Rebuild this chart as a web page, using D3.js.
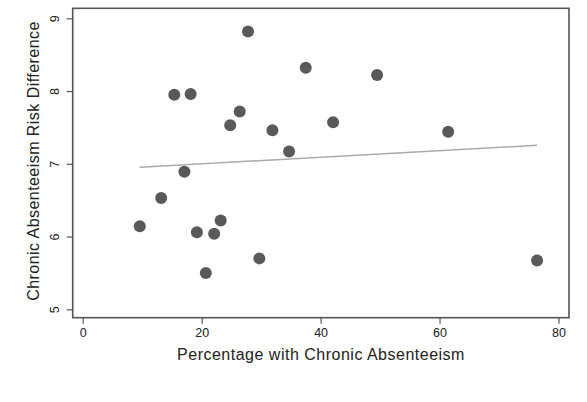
<!DOCTYPE html>
<html>
<head>
<meta charset="utf-8">
<script src="https://cdn.jsdelivr.net/npm/d3@7"></script>
<style>
  body { margin: 0; background: #fff; }
  text { font-family: "Liberation Sans", Arial, sans-serif; fill: #222; }
</style>
</head>
<body>
<div id="chart"></div>
<script>
var pctChronic = [27.8, 37.5, 15.4, 18.15, 26.4, 24.8, 31.9, 42.1, 34.7, 17.1,
                  13.2, 9.6, 19.2, 22.1, 23.2, 29.7, 20.7, 61.45, 76.4, 49.5]
var riskDiff   = [8.82, 8.32, 7.95, 7.96, 7.72, 7.53, 7.46, 7.57, 7.17, 6.89,
                  6.53, 6.14, 6.06, 6.04, 6.22, 5.70, 5.50, 7.44, 5.67, 8.22]
var xTicks = [0, 20, 40, 60, 80]
var yTicks = [5, 6, 7, 8, 9]

var width = 587, height = 402
var frame = {left: 72.7, top: 8.3, right: 569, bottom: 317.7}

var svg = d3.select("#chart").append("svg")
    .attr("width", width)
    .attr("height", height)

var xScale = d3.scaleLinear().domain([0, 80]).range([82.7, 558.5])
var yScale = d3.scaleLinear().domain([5, 9]).range([309.3, 18.3])

// plot frame
svg.append("rect")
    .attr("x", frame.left)
    .attr("y", frame.top)
    .attr("width", frame.right - frame.left)
    .attr("height", frame.bottom - frame.top)
    .attr("fill", "none")
    .attr("stroke", "#555")
    .attr("stroke-width", 1.6)

// y axis
var yAxis = svg.append("g")
    .attr("transform", "translate(" + frame.left + ",0)")
    .call(d3.axisLeft(yScale).tickValues(yTicks).tickSize(6).tickPadding(4).tickFormat(d3.format("d")))
yAxis.select(".domain").remove()
yAxis.selectAll(".tick line").attr("stroke", "#555").attr("stroke-width", 1.2)
yAxis.selectAll(".tick text")
    .attr("font-size", 12.5)
    .attr("fill", "#222")
    .attr("text-anchor", "middle")
    .attr("x", null).attr("dy", null)
    .attr("transform", "translate(-17,0) rotate(-90)")
    .attr("dominant-baseline", "middle")

// x axis
var xAxis = svg.append("g")
    .attr("transform", "translate(0," + frame.bottom + ")")
    .call(d3.axisBottom(xScale).tickValues(xTicks).tickSize(6).tickPadding(4).tickFormat(d3.format("d")))
xAxis.select(".domain").remove()
xAxis.selectAll(".tick line").attr("stroke", "#555").attr("stroke-width", 1.2)
xAxis.selectAll(".tick text").attr("font-size", 12.5).attr("fill", "#222")

// axis titles
svg.append("text")
    .attr("transform", "translate(39,161) rotate(-90)")
    .attr("text-anchor", "middle")
    .attr("font-size", 16)
    .attr("letter-spacing", 0.45)
    .text("Chronic Absenteeism Risk Difference")

svg.append("text")
    .attr("x", 321)
    .attr("y", 360)
    .attr("text-anchor", "middle")
    .attr("font-size", 16)
    .attr("letter-spacing", 0.5)
    .text("Percentage with Chronic Absenteeism")

// points
var data = pctChronic.map(function(x, i) { return {x: x, y: riskDiff[i]} })

// linear fit
var mx = d3.mean(data, function(d) { return d.x })
var my = d3.mean(data, function(d) { return d.y })
var sxy = d3.sum(data, function(d) { return (d.x - mx) * (d.y - my) })
var sxx = d3.sum(data, function(d) { return (d.x - mx) * (d.x - mx) })
var slope = sxy / sxx, intercept = my - slope * mx
var xExt = d3.extent(pctChronic)

svg.append("line")
    .attr("x1", xScale(xExt[0]))
    .attr("y1", yScale(intercept + slope * xExt[0]))
    .attr("x2", xScale(xExt[1]))
    .attr("y2", yScale(intercept + slope * xExt[1]))
    .attr("stroke", "#aaa")
    .attr("stroke-width", 1.5)

svg.selectAll(".pt")
    .data(data)
    .enter()
    .append("circle")
    .attr("class", "pt")
    .attr("cx", function(d) { return xScale(d.x) })
    .attr("cy", function(d) { return yScale(d.y) })
    .attr("r", 6)
    .attr("fill", "#595959")
</script>
</body>
</html>
